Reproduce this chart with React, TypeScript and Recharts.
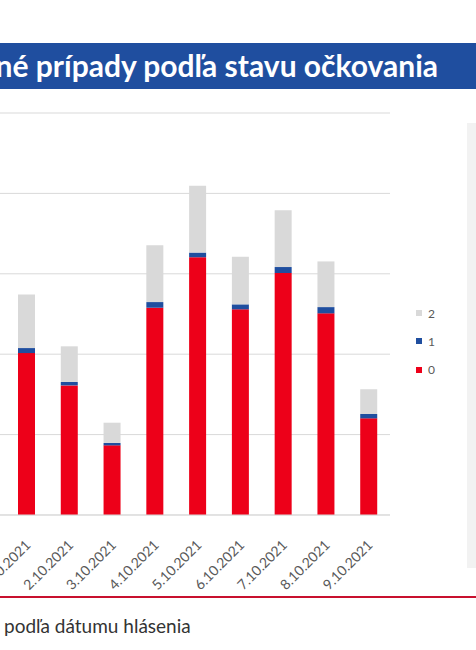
import { BarChart, Bar, XAxis, YAxis, CartesianGrid } from "recharts";

const dates = [
  "1.10.2021",
  "2.10.2021",
  "3.10.2021",
  "4.10.2021",
  "5.10.2021",
  "6.10.2021",
  "7.10.2021",
  "8.10.2021",
  "9.10.2021",
];
// počty podľa stavu očkovania (0 = neočkovaní, 1 = jedna dávka, 2 = dve dávky)
const dose0 = [1007, 806, 433, 1289, 1603, 1279, 1505, 1254, 601];
const dose1 = [31, 21, 15, 35, 29, 31, 37, 39, 27];
const dose2 = [334, 222, 126, 354, 415, 296, 353, 284, 154];
const yTicks = [0, 500, 1000, 1500, 2000, 2500];

const data = dates.map((d, i) => ({
  datum: d,
  d0: dose0[i],
  d1: dose1[i],
  d2: dose2[i],
}));

const legendItems = [
  { label: "2", color: "#d9d9d9" },
  { label: "1", color: "#1f4e9f" },
  { label: "0", color: "#ed0019" },
];

const DateTick = (props: any) => {
  const { x, y, payload } = props;
  return (
    <g transform={`translate(${x + 5},${y + 31})`}>
      <text
        textAnchor="end"
        transform="rotate(-45)"
        fontSize={14}
        fill="#595959"
        fontFamily="Lato"
      >
        {payload.value}
      </text>
    </g>
  );
};

export default function App() {
  return (
    <div
      style={{
        position: "absolute",
        left: 0,
        top: 0,
        width: 476,
        height: 650,
        overflow: "hidden",
        background: "#fff",
      }}
    >
      <div
        style={{
          position: "absolute",
          left: 0,
          top: 43,
          width: 476,
          height: 46,
          background: "#1f4e9f",
          overflow: "hidden",
        }}
      >
        <div
          style={{
            position: "absolute",
            right: 38,
            top: -1,
            lineHeight: "46px",
            whiteSpace: "nowrap",
            fontFamily: "Lato",
            fontWeight: 700,
            fontSize: 30,
            color: "#fff",
          }}
        >
          Potvrdené prípady podľa stavu očkovania
        </div>
      </div>

      <div
        style={{
          position: "absolute",
          left: 467,
          top: 123,
          width: 20,
          height: 445,
          background: "#f2f2f2",
        }}
      />

      <div style={{ position: "absolute", left: 0, top: 0 }}>
        <BarChart
          width={476}
          height={600}
          data={data}
          margin={{ top: 113, right: 86, left: 0, bottom: 25 }}
          barSize={17}
        >
          <CartesianGrid vertical={false} stroke="#d9d9d9" />
          <XAxis
            dataKey="datum"
            height={60}
            padding={{ left: 5, right: 0 }}
            axisLine={{ stroke: "#d9d9d9" }}
            tickLine={false}
            tickSize={0}
            tickMargin={0}
            interval={0}
            tick={<DateTick />}
          />
          <YAxis hide domain={[0, 2500]} ticks={yTicks} />
          <Bar dataKey="d0" stackId="a" fill="#ed0019" isAnimationActive={false} />
          <Bar dataKey="d1" stackId="a" fill="#1f4e9f" isAnimationActive={false} />
          <Bar dataKey="d2" stackId="a" fill="#d9d9d9" isAnimationActive={false} />
        </BarChart>
      </div>

      <div
        style={{
          position: "absolute",
          left: 416,
          top: 299,
          fontFamily: "Lato",
          fontSize: 12,
          color: "#595959",
        }}
      >
        {legendItems.map((it) => (
          <div
            key={it.label}
            style={{ display: "flex", alignItems: "center", height: 28.3 }}
          >
            <span
              style={{
                width: 6,
                height: 6,
                background: it.color,
                marginRight: 6,
                display: "inline-block",
              }}
            />
            {it.label}
          </div>
        ))}
      </div>

      <div
        style={{
          position: "absolute",
          left: 0,
          top: 596,
          width: 476,
          height: 2,
          background: "#c8102e",
        }}
      />
      <div
        style={{
          position: "absolute",
          left: 4,
          top: 614,
          whiteSpace: "nowrap",
          fontFamily: "Lato",
          fontSize: 19,
          color: "#333",
        }}
      >
        podľa dátumu hlásenia
      </div>
    </div>
  );
}
